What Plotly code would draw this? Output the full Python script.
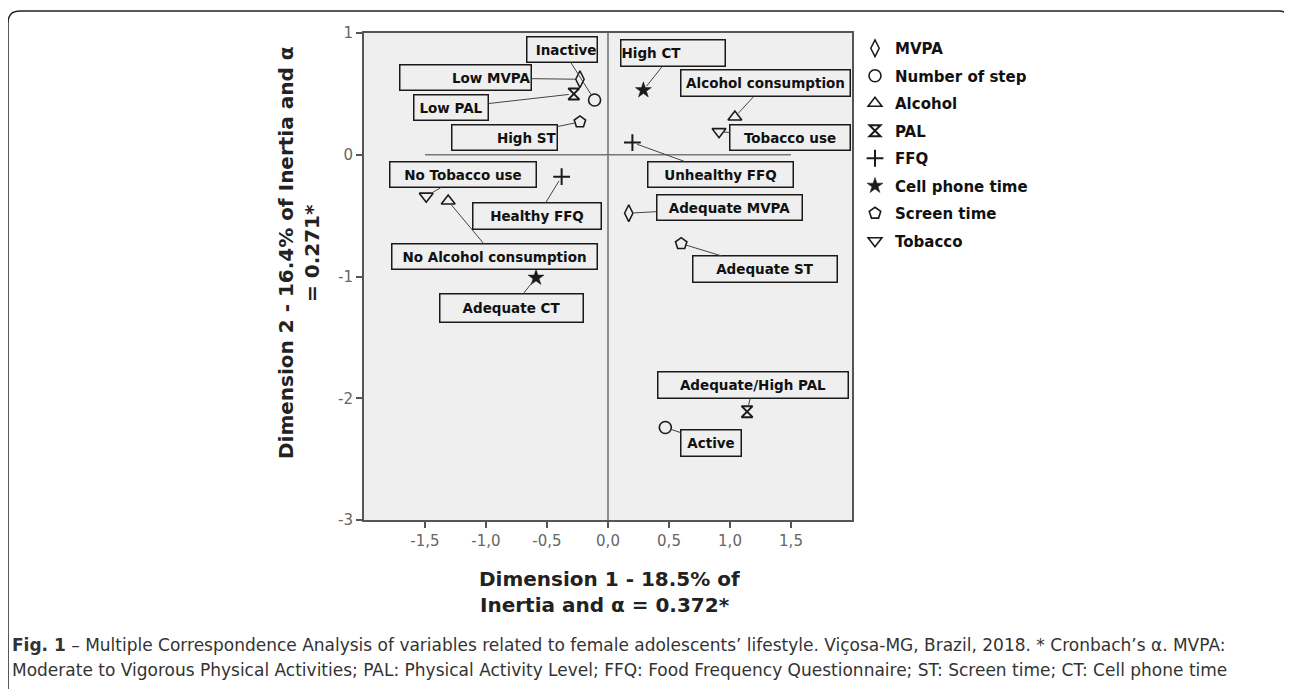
import plotly.graph_objects as go

# ---------------- data ----------------
variables = ["MVPA", "Number of step", "Alcohol", "PAL", "FFQ",
             "Cell phone time", "Screen time", "Tobacco"]

mvpa_cats = ["Low MVPA", "Adequate MVPA"]
mvpa_x = [-0.23, 0.17]
mvpa_y = [0.62, -0.48]

steps_cats = ["Inactive", "Active"]
steps_x = [-0.11, 0.47]
steps_y = [0.45, -2.24]

alcohol_cats = ["Alcohol consumption", "No Alcohol consumption"]
alcohol_x = [1.04, -1.31]
alcohol_y = [0.31, -0.38]

pal_cats = ["Low PAL", "Adequate/High PAL"]
pal_x = [-0.28, 1.14]
pal_y = [0.50, -2.11]

ffq_cats = ["Unhealthy FFQ", "Healthy FFQ"]
ffq_x = [0.20, -0.38]
ffq_y = [0.10, -0.18]

ct_cats = ["High CT", "Adequate CT"]
ct_x = [0.29, -0.59]
ct_y = [0.53, -1.01]

st_cats = ["High ST", "Adequate ST"]
st_x = [-0.23, 0.60]
st_y = [0.27, -0.73]

tobacco_cats = ["Tobacco use", "No Tobacco use"]
tobacco_x = [0.91, -1.49]
tobacco_y = [0.19, -0.34]

x_ticks = [-1.5, -1.0, -0.5, 0.0, 0.5, 1.0, 1.5]
x_tick_labels = ["-1,5", "-1,0", "-0,5", "0,0", "0,5", "1,0", "1,5"]
y_ticks = [1, 0, -1, -2, -3]
y_tick_labels = ["1", "0", "-1", "-2", "-3"]

x_title = ["Dimension 1 - 18.5% of", "Inertia and α = 0.372*"]
y_title = ["Dimension 2 - 16.4% of Inertia and α", "= 0.271*"]
caption = [
    "<b>Fig. 1</b> – Multiple Correspondence Analysis of variables related to female adolescents’ lifestyle. "
    "Viçosa-MG, Brazil, 2018. * Cronbach’s α. MVPA:",
    "Moderate to Vigorous Physical Activities; PAL: Physical Activity Level; FFQ: Food Frequency Questionnaire; "
    "ST: Screen time; CT: Cell phone time",
]

# ---------------- layout / styling ----------------
OFF = 8                                  # page body margin of the html page
SW, SH = 1292, 689                       # screen size
W, H = SW - OFF, SH - OFF                # figure size
Ls, Rs, Ts, Bs = 364, 852, 33, 520       # plot area in screen pixels


def px(xs):
    return (xs - Ls) / (Rs - Ls)


def py(ys):
    return (Bs - ys) / (Bs - Ts)


# label box centres (data units), box width/height (px), text alignment
label_boxes = {
    "Inactive": (-0.373, 0.865, 72, 27, "right"),
    "Low MVPA": (-1.171, 0.632, 133, 27, "right"),
    "Low PAL": (-1.284, 0.386, 76, 27, "center"),
    "High ST": (-0.849, 0.140, 107, 27, "right"),
    "High CT": (0.530, 0.834, 106, 28, "left"),
    "Alcohol consumption": (1.294, 0.587, 171, 28, "center"),
    "Tobacco use": (1.495, 0.140, 122, 27, "center"),
    "No Tobacco use": (-1.186, -0.162, 148, 27, "center"),
    "Unhealthy FFQ": (0.923, -0.162, 147, 27, "center"),
    "Healthy FFQ": (-0.579, -0.505, 130, 28, "center"),
    "Adequate MVPA": (0.992, -0.435, 147, 27, "center"),
    "No Alcohol consumption": (-0.929, -0.838, 207, 27, "center"),
    "Adequate CT": (-0.791, -1.262, 145, 30, "center"),
    "Adequate ST": (1.289, -0.940, 146, 28, "center"),
    "Adequate/High PAL": (1.190, -1.893, 192, 28, "center"),
    "Active": (0.843, -2.365, 62, 28, "center"),
}

INK = "#1a1a1a"
series = [
    (variables[0], mvpa_cats, mvpa_x, mvpa_y, dict(symbol="diamond-tall-open", size=12, line=dict(width=1.5, color=INK))),
    (variables[1], steps_cats, steps_x, steps_y, dict(symbol="circle-open", size=12, line=dict(width=1.6, color=INK))),
    (variables[2], alcohol_cats, alcohol_x, alcohol_y, dict(symbol="triangle-up-open", size=12, line=dict(width=1.6, color=INK))),
    (variables[3], pal_cats, pal_x, pal_y, dict(symbol="hourglass-open", size=11, line=dict(width=2, color=INK))),
    (variables[4], ffq_cats, ffq_x, ffq_y, dict(symbol="cross-thin-open", size=12, line=dict(width=2, color=INK))),
    (variables[5], ct_cats, ct_x, ct_y, dict(symbol="star", size=12, line=dict(width=0.5, color=INK))),
    (variables[6], st_cats, st_x, st_y, dict(symbol="pentagon-open", size=12, line=dict(width=1.6, color=INK))),
    (variables[7], tobacco_cats, tobacco_x, tobacco_y, dict(symbol="triangle-down-open", size=12, line=dict(width=1.6, color=INK))),
]

fig = go.Figure()
annotations = []
for name, cats, xs, ys, mk in series:
    fig.add_trace(go.Scatter(
        x=xs, y=ys, mode="markers", name=name, legendgroup=name,
        marker=dict(color=INK, **mk), hoverinfo="text", text=cats,
    ))
    for c, x, y in zip(cats, xs, ys):
        bx, by, w, h, al = label_boxes[c]
        annotations.append(dict(
            x=x, y=y, xref="x", yref="y", ax=bx, ay=by, axref="x", ayref="y",
            text=c, showarrow=True, arrowhead=0, arrowwidth=1, arrowcolor="#444",
            standoff=5, width=w - 3, height=h - 3, align=al, valign="middle",
            bordercolor=INK, borderwidth=1.5, borderpad=0,
            bgcolor="rgba(0,0,0,0)", xanchor="center", yanchor="middle",
            font=dict(family="DejaVu Sans", size=13.5, color="#111", weight="bold"),
        ))

# axis titles as two-line annotations
title_font_x = dict(family="DejaVu Sans", size=20, color="#222", weight="bold")
title_font_y = dict(family="DejaVu Sans", size=20, color="#222", weight="bold")
annotations.append(dict(text=x_title[0], x=px(609), y=py(579), xref="paper", yref="paper",
                        showarrow=False, xanchor="center", yanchor="middle", font=title_font_x))
annotations.append(dict(text=x_title[1], x=px(605), y=py(605), xref="paper", yref="paper",
                        showarrow=False, xanchor="center", yanchor="middle", font=title_font_x))
annotations.append(dict(text=y_title[0], x=px(286), y=py(253), xref="paper", yref="paper",
                        showarrow=False, xanchor="center", yanchor="middle", textangle=-90,
                        font=title_font_y))
annotations.append(dict(text=y_title[1], x=px(312), y=py(253), xref="paper", yref="paper",
                        showarrow=False, xanchor="center", yanchor="middle", textangle=-90,
                        font=title_font_y))
# caption
for i, line in enumerate(caption):
    annotations.append(dict(text=line, x=px(10), y=py(645 + 25 * i), xref="paper", yref="paper",
                            showarrow=False, xanchor="left", yanchor="middle", align="left",
                            font=dict(family="DejaVu Sans", size=17, color="#333")))

shapes = [
    # vertical reference line at x = 0
    dict(type="line", xref="x", yref="paper", x0=0, x1=0, y0=0, y1=1,
         line=dict(color="#777", width=1.6), layer="above"),
    # horizontal reference line at y = 0
    dict(type="line", xref="x", yref="y", x0=x_ticks[0], x1=x_ticks[-1], y0=0, y1=0,
         line=dict(color="#777", width=1.6), layer="above"),
    # outer rounded frame (top + left visible)
    dict(type="path", xref="paper", yref="paper",
         path=f"M {px(8)},{py(700)} L {px(8)},{py(23)} Q {px(8)},{py(11)} {px(20)},{py(11)} "
              f"L {px(1279)},{py(11)} Q {px(1290)},{py(11)} {px(1290)},{py(23)} L {px(1290)},{py(700)}",
         line=dict(color="#222", width=1.5)),
]

fig.update_layout(
    width=W, height=H,
    margin=dict(l=Ls - OFF, r=W - (Rs - OFF), t=Ts - OFF, b=H - (Bs - OFF), autoexpand=False),
    paper_bgcolor="white", plot_bgcolor="#efefef",
    showlegend=True,
    legend=dict(x=px(855), y=py(32), xanchor="left", yanchor="top",
                bgcolor="rgba(0,0,0,0)", tracegroupgap=5, itemsizing="trace",
                font=dict(family="DejaVu Sans", size=15, color="#111", weight="bold")),
    annotations=annotations, shapes=shapes,
    xaxis=dict(range=[-2, 2], tickvals=x_ticks, ticktext=x_tick_labels, showgrid=False, zeroline=False,
               showline=True, linecolor="#555", linewidth=2, mirror=True,
               ticks="outside", ticklen=6, tickcolor="#555", tickwidth=1.5,
               tickfont=dict(family="DejaVu Sans", size=15, color="#666")),
    yaxis=dict(range=[-3, 1], tickvals=y_ticks, ticktext=y_tick_labels, showgrid=False, zeroline=False,
               showline=True, linecolor="#555", linewidth=2, mirror=True,
               ticks="outside", ticklen=6, tickcolor="#555", tickwidth=1.5,
               tickfont=dict(family="DejaVu Sans", size=15, color="#666")),
)

fig.write_html("out.html")
